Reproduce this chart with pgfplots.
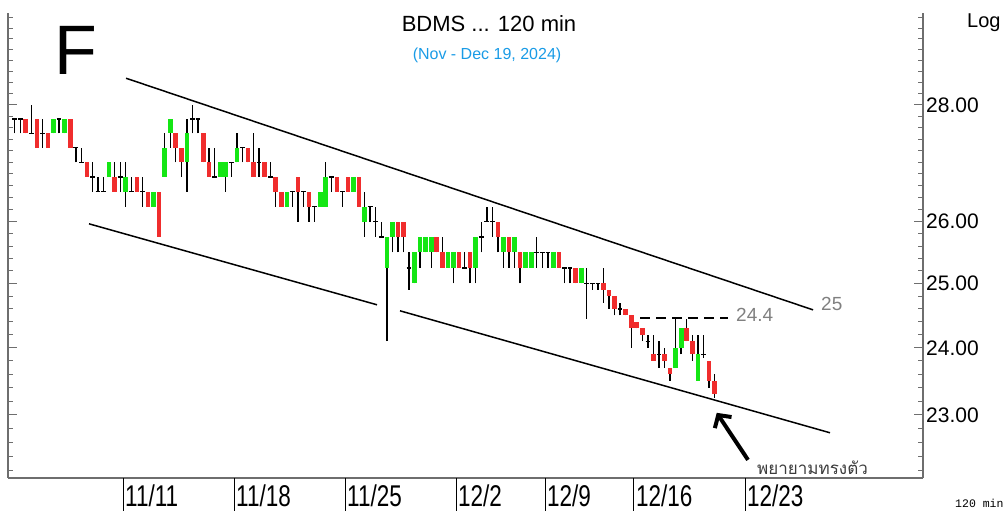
\documentclass[border=0pt]{standalone}
\usepackage{pgfplots}
\pgfplotsset{compat=1.18}
\usepackage{pgfplotstable}
\usepackage{fontspec}
\setmainfont{Liberation Sans}
\newfontfamily\narrowfont[FakeStretch=0.75]{Liberation Sans}
\newfontfamily\thaifont[Script=Thai]{Loma}
\newfontfamily\monofont{Liberation Mono}
\usetikzlibrary{arrows.meta}
\definecolor{cgreen}{RGB}{20,230,20}
\definecolor{cred}{RGB}{240,45,45}
\definecolor{axgray}{RGB}{110,110,110}
\definecolor{lblgray}{RGB}{128,128,128}
\definecolor{subblue}{RGB}{25,155,230}
\definecolor{thaigray}{RGB}{60,60,60}

\pgfplotstableread{
i O H L C
0 27.75 27.75 27.5 27.75
1 27.75 27.75 27.5 27.75
2 27.75 27.75 27.5 27.5
3 27.5 28.0 27.5 27.5
4 27.75 27.75 27.25 27.25
5 27.5 27.75 27.25 27.5
6 27.5 27.5 27.25 27.25
7 27.5 27.75 27.5 27.75
8 27.75 27.75 27.5 27.75
9 27.5 27.75 27.5 27.75
10 27.75 27.75 27.25 27.25
11 27.25 27.25 27.0 27.25
12 27.0 27.25 27.0 27.0
13 27.0 27.0 26.75 26.75
14 26.75 27.0 26.5 26.75
15 26.5 26.75 26.5 26.5
16 26.5 26.75 26.5 26.5
17 26.75 27.0 26.75 27.0
18 26.75 27.0 26.5 26.5
19 26.75 27.0 26.5 26.75
20 26.5 27.0 26.25 26.75
21 26.5 26.75 26.5 26.5
22 26.75 26.75 26.5 26.5
23 26.5 26.75 26.25 26.5
24 26.5 26.5 26.25 26.25
25 26.25 26.5 26.25 26.5
26 26.5 26.5 25.75 25.75
27 26.75 27.5 26.75 27.25
28 27.5 27.75 27.25 27.75
29 27.5 27.5 27.0 27.25
30 27.25 27.25 26.75 27.0
31 27.0 27.75 26.5 27.5
32 27.75 28.0 27.5 27.75
33 27.75 27.75 27.5 27.75
34 27.5 27.5 27.0 27.0
35 27.0 27.25 26.75 26.75
36 26.75 27.25 26.75 26.75
37 26.75 27.0 26.75 27.0
38 26.75 27.0 26.5 27.0
39 27.0 27.0 26.75 27.0
40 27.0 27.5 27.0 27.25
41 27.25 27.25 27.0 27.25
42 27.25 27.25 27.0 27.0
43 27.0 27.5 26.75 26.75
44 27.0 27.25 26.75 27.0
45 27.0 27.0 26.75 26.75
46 26.75 27.0 26.75 26.75
47 26.75 26.75 26.25 26.5
48 26.5 26.5 26.25 26.25
49 26.25 26.5 26.25 26.5
50 26.5 26.5 26.25 26.5
51 26.75 26.75 26.0 26.5
52 26.5 26.5 26.25 26.5
53 26.5 26.5 26.0 26.25
54 26.25 26.25 26.0 26.25
55 26.25 26.5 26.25 26.5
56 26.25 27.0 26.25 26.75
57 26.75 26.75 26.5 26.75
58 26.75 26.75 26.5 26.5
59 26.5 26.5 26.25 26.5
60 26.75 26.75 26.5 26.5
61 26.5 26.75 26.5 26.75
62 26.75 26.75 26.25 26.25
63 26.0 26.5 25.75 26.25
64 26.25 26.25 26.0 26.25
65 26.0 26.25 25.75 26.0
66 25.75 26.0 25.75 25.75
67 25.25 25.75 24.1 25.75
68 25.75 26.0 25.5 26.0
69 26.0 26.0 25.5 25.75
70 26.0 26.0 25.5 25.75
71 25.25 25.5 24.9 25.25
72 25.0 25.5 25.0 25.5
73 25.5 25.75 25.25 25.75
74 25.5 25.75 25.5 25.75
75 25.5 25.75 25.25 25.75
76 25.75 25.75 25.5 25.5
77 25.5 25.75 25.25 25.25
78 25.25 25.5 25.25 25.5
79 25.25 25.5 25.0 25.5
80 25.5 25.5 25.25 25.25
81 25.25 25.5 25.25 25.25
82 25.5 25.5 25.0 25.25
83 25.25 25.75 25.0 25.75
84 25.75 26.0 25.5 25.75
85 26.0 26.25 26.0 26.0
86 26.0 26.25 25.75 26.0
87 26.0 26.0 25.5 25.75
88 25.5 25.75 25.25 25.75
89 25.75 25.75 25.25 25.5
90 25.5 25.75 25.25 25.75
91 25.5 25.5 25.0 25.25
92 25.25 25.5 25.25 25.5
93 25.25 25.5 25.25 25.5
94 25.5 25.75 25.25 25.5
95 25.5 25.5 25.25 25.5
96 25.5 25.5 25.25 25.5
97 25.25 25.5 25.25 25.5
98 25.5 25.5 25.25 25.25
99 25.25 25.25 25.0 25.25
100 25.25 25.25 25.0 25.25
101 25.25 25.25 25.0 25.0
102 25.0 25.25 25.0 25.25
103 25.0 25.25 24.45 25.0
104 25.0 25.0 24.9 25.0
105 25.0 25.0 24.9 25.0
106 25.0 25.25 24.7 24.9
107 24.9 24.9 24.6 24.8
108 24.8 24.8 24.5 24.6
109 24.6 24.7 24.5 24.6
110 24.6 24.6 24.5 24.5
111 24.5 24.5 24.0 24.3
112 24.4 24.4 24.3 24.3
113 24.3 24.3 24.1 24.2
114 24.1 24.2 24.0 24.1
115 23.9 24.2 23.8 23.8
116 23.9 24.1 23.7 23.9
117 23.9 24.0 23.7 23.8
118 23.7 23.7 23.5 23.6
119 23.7 24.45 23.7 24.0
120 24.0 24.3 23.9 24.3
121 24.3 24.45 24.1 24.1
122 24.1 24.2 23.8 23.9
123 23.5 24.2 23.5 23.9
124 23.9 24.2 23.85 23.9
125 23.8 23.8 23.4 23.5
126 23.5 23.6 23.25 23.3
}\ohlc

\def\minorlist{22.2,22.4,22.6,22.8,23.2,23.4,23.6,23.8,24.2,24.4,24.6,24.8,25.2,25.4,25.6,25.8,26.2,26.4,26.6,26.8,27,27.2,27.4,27.6,27.8,28.2,28.4,28.6,28.8,29,29.2,29.4,29.6}

\begin{document}
\begin{tikzpicture}[x=1pt,y=1pt]
\useasboundingbox (0,0) rectangle (1008,511);
% left axis line with ticks
\begin{axis}[
  at={(8pt,33pt)}, anchor=south west,
  width=915pt, height=465pt, scale only axis,
  ymode=log, xmin=-1.21, xmax=163.54, ymin=22.098, ymax=29.685,
  axis x line=none, axis y line*=left,
  axis line style={axgray, line width=1.6pt},
  ytick={23,24,25,26,28}, yticklabels={},
  minor ytick/.expanded={\minorlist},
  tick align=inside, major tick length=9pt, minor tick length=5pt,
  tick style={axgray, line width=1pt},
]
\addplot[draw=none] coordinates {(0,25)};
\end{axis}
\begin{axis}[
  at={(8pt,33pt)}, anchor=south west,
  width=915pt, height=465pt, scale only axis,
  ymode=log, xmin=-1.21, xmax=163.54, ymin=22.098, ymax=29.685,
  clip=false,
  axis x line*=bottom, axis y line*=right,
  axis line style={axgray, line width=1.6pt},
  xtick=\empty,
  ytick={23,24,25,26,28},
  yticklabels={23.00,24.00,25.00,26.00,28.00},
  minor ytick/.expanded={\minorlist},
  tick align=inside, major tick length=9pt, minor tick length=5pt,
  tick style={axgray, line width=1pt},
  yticklabel style={font=\fontsize{21}{21}\selectfont, anchor=west, inner sep=0pt, xshift=3pt},
]
\pgfplotsinvokeforeach{0,...,126}{
  \pgfplotstablegetelem{#1}{O}\of\ohlc\let\vO\pgfplotsretval
  \pgfplotstablegetelem{#1}{H}\of\ohlc\let\vH\pgfplotsretval
  \pgfplotstablegetelem{#1}{L}\of\ohlc\let\vL\pgfplotsretval
  \pgfplotstablegetelem{#1}{C}\of\ohlc\let\vC\pgfplotsretval
  \pgfmathsetmacro\xl{#1-0.42}
  \pgfmathsetmacro\xr{#1+0.42}
  \edef\temp{\noexpand\addplot[black, line width=1.4pt] coordinates {(#1,\vL) (#1,\vH)};}\temp
  \ifdim\vC pt>\vO pt
    \edef\temp{\noexpand\addplot[fill=cgreen, draw=none] coordinates {(\xl,\vO) (\xr,\vO) (\xr,\vC) (\xl,\vC)};}\temp
  \else
    \ifdim\vC pt<\vO pt
      \edef\temp{\noexpand\addplot[fill=cred, draw=none] coordinates {(\xl,\vO) (\xr,\vO) (\xr,\vC) (\xl,\vC)};}\temp
    \else
      \edef\temp{\noexpand\addplot[black, line width=1.4pt] coordinates {(\xl,\vO) (\xr,\vO)};}\temp
    \fi
  \fi
}
% trend lines
\addplot[black, line width=1.5pt] coordinates {(20.04,28.48) (143.74,24.585)};
\addplot[black, line width=1.5pt] coordinates {(13.38,25.965) (65.23,24.664)};
\addplot[black, line width=1.5pt] coordinates {(69.37,24.57) (146.8,22.74)};
\addplot[black, line width=1.8pt, dash pattern=on 10pt off 6pt] coordinates {(112.6,24.46) (128.4,24.46)};
\addplot[black, line width=4pt, -{Straight Barb[length=9pt, width=20pt]}] coordinates {(132.03,22.352) (126.4,23.03)};
% week separators
\pgfplotsinvokeforeach{19.5,39.5,59.5,79.5,95.5,111.5,131.5}{
  \draw[black, line width=1pt] (axis cs:#1,22.098) -- ++(0pt,-33pt);
}
\end{axis}
% texts
\node[anchor=base, inner sep=0pt, font=\fontsize{22}{22}\selectfont] at (489,479) {BDMS ... 120 min};
\node[anchor=base, inner sep=0pt, text=subblue, font=\fontsize{16}{16}\selectfont] at (487,451) {(Nov - Dec 19, 2024)};
\node[anchor=base west, inner sep=0pt, font=\fontsize{70}{70}\selectfont] at (54,436) {F};
\node[anchor=base west, inner sep=0pt, font=\fontsize{20}{20}\selectfont] at (967,483) {Log};
\node[anchor=base west, inner sep=0pt, font=\monofont\fontsize{11.5}{11.5}\selectfont] at (955,4) {120 min};
\node[anchor=base west, inner sep=0pt, text=lblgray, font=\fontsize{19}{19}\selectfont] at (736,189) {24.4};
\node[anchor=base west, inner sep=0pt, text=lblgray, font=\fontsize{19}{19}\selectfont] at (821,200) {25};
\node[anchor=base west, inner sep=0pt, text=thaigray, font=\thaifont\fontsize{17}{17}\selectfont] at (757,37) {พยายามทรงตัว};
\foreach \xx/\lab in {125/11\slash 11, 236/11\slash 18, 347/11\slash 25, 458/12\slash 2, 547/12\slash 9, 636/12\slash 16, 747/12\slash 23}{
  \node[anchor=base west, inner sep=0pt, font=\narrowfont\fontsize{30}{30}\selectfont] at (\xx,5) {\lab};
}
\end{tikzpicture}
\end{document}
